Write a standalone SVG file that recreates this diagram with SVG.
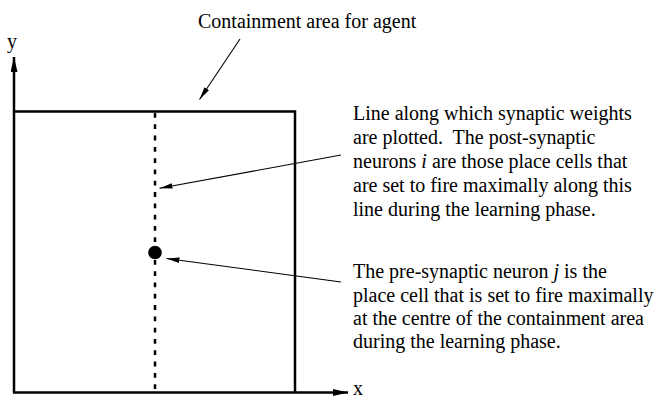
<svg xmlns="http://www.w3.org/2000/svg" width="661" height="398" viewBox="0 0 661 398">
<style>
  text { font-family: "Liberation Serif", "Times New Roman", serif; font-size: 20px; fill: #000; }
  .axis { stroke: #000; stroke-width: 2.5; fill: none; }
  .box { stroke: #000; stroke-width: 2.5; fill: none; }
  .dash { stroke: #000; stroke-width: 2.5; stroke-dasharray: 4.8 6.5; fill: none; }
  .conn { stroke: #000; stroke-width: 1.1; fill: none; marker-end: url(#ah); }
</style>
<defs>
  <marker id="ah" markerUnits="userSpaceOnUse" markerWidth="14" markerHeight="8" refX="13" refY="3" orient="auto">
    <path d="M0,0.3 L13,3 L0,5.7 Z" fill="#000"/>
  </marker>
  <marker id="axh" markerUnits="userSpaceOnUse" markerWidth="16" markerHeight="10" refX="15" refY="3.5" orient="auto">
    <path d="M0,0 L15,3.5 L0,7 Z" fill="#000"/>
  </marker>
</defs>
<g id="axes">
  <line class="axis" x1="14" y1="392.5" x2="14" y2="57" marker-end="url(#axh)"/>
  <line class="axis" x1="13" y1="392.5" x2="348" y2="392.5" marker-end="url(#axh)"/>
  <text x="7" y="48" font-size="18">y</text>
  <text x="353" y="395" font-size="17">x</text>
</g>
<g id="containment-area">
  <polyline class="box" points="14,111.5 295,111.5 295,392.5"/>
</g>
<g id="sample-line">
  <line class="dash" x1="155" y1="389" x2="155" y2="111"/>
</g>
<g id="pre-neuron">
  <circle cx="155" cy="252.5" r="6.8" fill="#000"/>
</g>
<g id="connectors">
  <line class="conn" x1="240" y1="39" x2="199.5" y2="99.5"/>
  <line class="conn" x1="341" y1="155" x2="159.5" y2="188.3"/>
  <line class="conn" x1="341" y1="282" x2="166.5" y2="258.5"/>
</g>
<g id="label-containment">
  <text x="198" y="28">Containment area for agent</text>
</g>
<g id="label-line">
  <text x="353" y="120">Line along which synaptic weights</text>
  <text x="353" y="144">are plotted.&#160; The post-synaptic</text>
  <text x="353" y="168">neurons <tspan font-style="italic">i</tspan> are those place cells that</text>
  <text x="353" y="192">are set to fire maximally along this</text>
  <text x="353" y="216">line during the learning phase.</text>
</g>
<g id="label-pre">
  <text x="353" y="278.3">The pre-synaptic neuron <tspan font-style="italic">j</tspan> is the</text>
  <text x="353" y="301.7">place cell that is set to fire maximally</text>
  <text x="353" y="325">at the centre of the containment area</text>
  <text x="353" y="348.3">during the learning phase.</text>
</g>
</svg>
